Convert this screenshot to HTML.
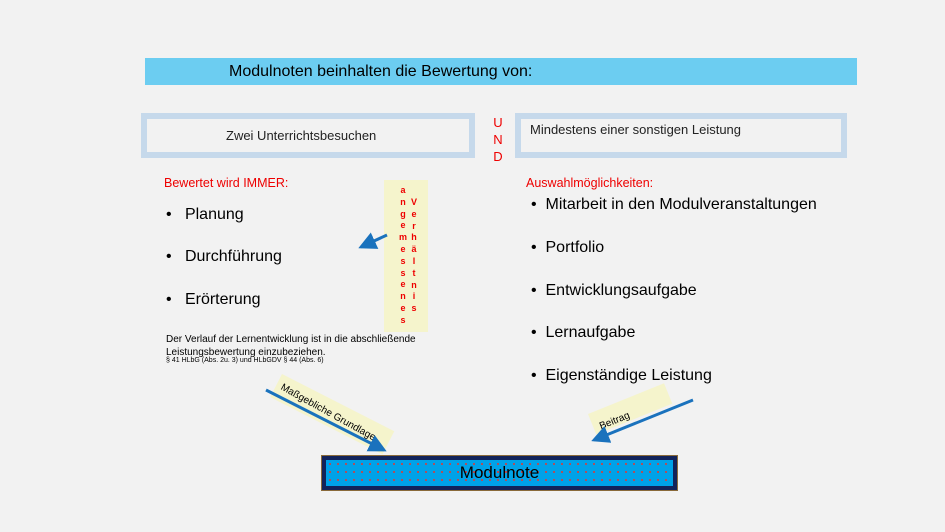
<!DOCTYPE html>
<html><head><meta charset="utf-8"><style>
body{margin:0;width:945px;height:532px;background:#f2f2f2;position:relative;overflow:hidden;font-family:"Liberation Sans",sans-serif;}
.a{position:absolute;white-space:nowrap}
.box{position:absolute;box-sizing:border-box;border:6px solid #c6d9eb;background:#f2f2f2}
.li{position:absolute;font-size:16px;color:#000}
.v{position:absolute;color:#e00;font-weight:bold;font-size:9px;line-height:11.8px;text-align:center;width:10px}
</style></head><body>
<div class="a" style="left:145px;top:58px;width:712px;height:27px;background:#6ccdf1"></div>
<div class="a" style="left:229px;top:63px;font-size:16px">Modulnoten beinhalten die Bewertung von:</div>
<div class="box" style="left:141px;top:113px;width:334px;height:45px"></div>
<div class="a" style="left:226px;top:128px;font-size:13px;color:#222">Zwei Unterrichtsbesuchen</div>
<div class="box" style="left:515px;top:113px;width:332px;height:45px"></div>
<div class="a" style="left:530px;top:122px;font-size:13px;color:#222">Mindestens einer sonstigen Leistung</div>
<div class="a" style="left:492px;top:114px;font-size:13px;line-height:17px;color:#e00;text-align:center;width:12px">U<br>N<br>D</div>

<div class="a" style="left:164px;top:176px;font-size:12.5px;color:#e00">Bewertet wird IMMER:</div>
<div class="li" style="left:166px;top:206px">•&nbsp;&nbsp;&nbsp;Planung</div>
<div class="li" style="left:166px;top:248px">•&nbsp;&nbsp;&nbsp;Durchführung</div>
<div class="li" style="left:166px;top:291px">•&nbsp;&nbsp;&nbsp;Erörterung</div>
<div class="a" style="left:166px;top:333px;font-size:10px;line-height:13px">Der Verlauf der Lernentwicklung ist in die abschließende<br>Leistungsbewertung einzubeziehen.</div>
<div class="a" style="left:166px;top:357px;font-size:7px">§ 41 HLbG (Abs. 2u. 3) und HLbGDV § 44 (Abs. 6)</div>

<div class="a" style="left:384px;top:180px;width:44px;height:152px;background:#f5f4cc"></div>
<div class="v" style="left:398px;top:185px">a<br>n<br>g<br>e<br>m<br>e<br>s<br>s<br>e<br>n<br>e<br>s</div>
<div class="v" style="left:409px;top:197px">V<br>e<br>r<br>h<br>ä<br>l<br>t<br>n<br>i<br>s</div>

<div class="a" style="left:526px;top:176px;font-size:12.5px;color:#e00">Auswahlmöglichkeiten:</div>
<div class="li" style="left:531px;top:196px">•&nbsp;&nbsp;Mitarbeit in den Modulveranstaltungen</div>
<div class="li" style="left:531px;top:239px">•&nbsp;&nbsp;Portfolio</div>
<div class="li" style="left:531px;top:282px">•&nbsp;&nbsp;Entwicklungsaufgabe</div>
<div class="li" style="left:531px;top:324px">•&nbsp;&nbsp;Lernaufgabe</div>
<div class="li" style="left:531px;top:367px">•&nbsp;&nbsp;Eigenständige Leistung</div>

<div class="a" style="left:282px;top:374px;width:126px;height:26px;background:#f5f4cc;transform-origin:0 0;transform:rotate(27deg)"></div>
<div class="a" style="left:284px;top:382px;font-size:10px;transform-origin:0 0;transform:rotate(29deg)">Maßgebliche Grundlage</div>
<div class="a" style="left:588px;top:414px;width:82px;height:22px;background:#f5f4cc;transform-origin:0 0;transform:rotate(-22deg)"></div>
<div class="a" style="left:598px;top:422px;font-size:10px;transform-origin:0 0;transform:rotate(-22deg)">Beitrag</div>

<svg class="a" style="left:0;top:0" width="945" height="532">
<defs><marker id="m" markerWidth="6" markerHeight="6" refX="5" refY="3" orient="auto"><path d="M0,0L6,3L0,6z" fill="#1a72bd"/></marker></defs>
<g stroke="#1a72bd" stroke-width="3" fill="none" marker-end="url(#m)">
<line x1="387" y1="235" x2="361" y2="247"/>
<line x1="266" y1="390" x2="384" y2="450"/>
<line x1="693" y1="400" x2="594" y2="440"/>
</g></svg>

<div class="a" style="left:321px;top:455px;width:357px;height:36px;box-sizing:border-box;background:#8a6a3a;padding:1px">
<div style="width:100%;height:100%;box-sizing:border-box;border:4px solid #12235a;background-color:#00a2e8;background-image:radial-gradient(#d04040 0.8px,transparent 1.2px);background-size:8px 8px;text-align:center;font-size:17px;line-height:26px">Modulnote</div></div>
</body></html>
